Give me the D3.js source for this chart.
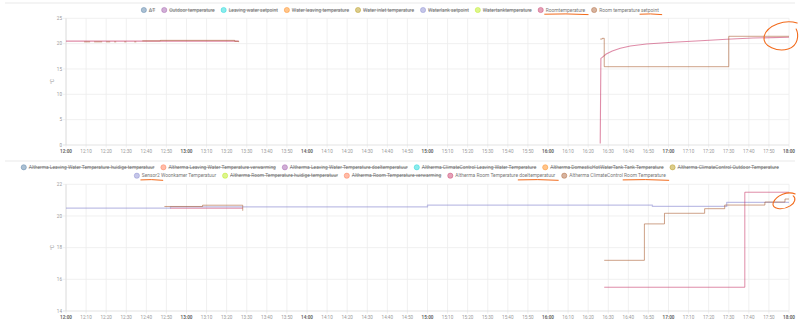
<!DOCTYPE html>
<html><head><meta charset="utf-8">
<script src="https://cdn.jsdelivr.net/npm/d3@7"></script>
<style>
html,body{margin:0;padding:0;background:#fff;}
svg{display:block;font-family:Roboto,"Noto Sans",sans-serif;}
</style></head><body>
<svg id="chart" width="800" height="326"></svg>
<script>
// ---------- legend entries ----------
const topLegendNames = ["ΔT","Outdoor temperature","Leaving water setpoint","Water leaving temperature","Water inlet temperature","Waterlank setpoint","Watertanktemperature","Roomtemperature","Room temperature setpoint"];
const topLegendColors = ["#44739e","#984ea3","#00d2d5","#ff7f00","#af8d00","#7f80cd","#b3e900","#c42e60","#a65628"];
const topLegendHidden = [true,true,true,true,true,true,true,false,false];

const bottomLegendNames1 = ["Altherma Leaving Water Temperature huidige temperatuur","Altherma Leaving Water Temperature verwarming","Altherma Leaving Water Temperature doeltemperatuur","Altherma ClimateControl Leaving Water Temperature","Altherma DomesticHotWaterTank Tank Temperature","Altherma ClimateControl Outdoor Temperature"];
const bottomLegendColors1 = ["#44739e","#ff6a3d","#984ea3","#00d2d5","#ff7f00","#af8d00"];
const bottomLegendHidden1 = [true,true,true,true,true,true];
const bottomLegendNames2 = ["Sensor2 Woonkamer Temperatuur","Altherma Room Temperature huidige temperatuur","Altherma Room Temperature verwarming","Altherma Room Temperature doeltemperatuur","Altherma ClimateControl Room Temperature"];
const bottomLegendColors2 = ["#7f80cd","#b3e900","#ff6a3d","#c42e60","#a65628"];
const bottomLegendHidden2 = [false,true,true,false,false];

// ---------- axis ticks ----------
const topYTicks = [0,5,10,15,20,25];
const bottomYTicks = [14,16,18,20,22];
const timeStart = "12:00", timeEnd = "18:00";

// ---------- top panel series ----------
const roomTemperature = [
  ["12:00",20.5],["13:26",20.5],["13:26:30",null],
  ["16:26",0.3],["16:26:20",17.1],["16:27",17.3],["16:29",17.95],["16:32",18.55],["16:36",19.08],
  ["16:41",19.53],["16:49",19.93],["17:02",20.26],["17:16",20.58],["17:29",20.86],["17:42",21.11],["18:00",21.25]
];
const roomTemperatureSetpoint = [
  ["12:09",20.35],["12:12",20.35],["12:12:30",null],
  ["12:14",20.35],["12:18",20.35],["12:18:30",null],
  ["12:20",20.35],["12:22",20.35],["12:22:30",null],
  ["12:24",20.35],["12:25",20.35],["12:25:30",null],
  ["12:29",20.35],["12:30",20.35],["12:30:30",null],
  ["12:34",20.35],["12:35",20.35],["12:35:30",null],
  ["12:38",20.55],["12:47",20.65],["13:24",20.45],["13:26",20.3],["13:26:30",null],
  ["16:26",20.9],["16:27",21.05],["16:28",15.45],["17:30",21.45],["18:00",21.45]
];

// ---------- bottom panel series ----------
const sensor2Woonkamer = [
  ["12:00",20.49],["12:52",20.57],["15:00",20.68],["16:52",20.6],["17:29",20.86],["18:00",20.86]
];
const roomDoeltemperatuur = [
  ["12:52",20.49],["13:28",20.49],["13:28:30",null],
  ["16:28",15.5],["17:38",21.5],["18:00",21.5]
];
const climateRoomTemperature = [
  ["12:49",20.6],["13:08",20.68],["13:28",20.33],["13:28:30",null],
  ["16:28",17.2],["16:48",19.5],["16:58",20.17],["17:18",20.46],["17:28",20.69],
  ["17:48",20.88],["17:58",21.07],["18:00",21.07]
];

// ---------- helpers ----------
const svg = d3.select("#chart");
const pHM = d3.timeParse("%H:%M"), pHMS = d3.timeParse("%H:%M:%S");
const t = s => (s.length === 5 ? pHM(s) : pHMS(s));
const fmt = d3.timeFormat("%H:%M");
const ink = "#f26a1b";

const x = d3.scaleTime().domain([t(timeStart), t(timeEnd)]).range([66, 789]);

function drawLegendRow(y, names, colors, hidden, underlines) {
  const g = svg.append("g");
  const items = names.map((n, i) => {
    const it = g.append("g");
    it.append("circle").attr("r", 2.6).attr("cx", 0).attr("cy", 0)
      .attr("fill", colors[i]).attr("fill-opacity", 0.45)
      .attr("stroke", colors[i]).attr("stroke-opacity", 0.55).attr("stroke-width", 0.7);
    const tx = it.append("text").attr("x", 5).attr("y", 0).attr("dy", "0.35em")
      .attr("font-size", 4.9).attr("fill", "#777").text(n);
    if (hidden[i]) tx.style("text-decoration", "line-through");
    const w = tx.node().getComputedTextLength();
    return {it, tx, w: 5 + w};
  });
  const gap = 9;
  const total = d3.sum(items, d => d.w) + 2.6 + gap * (items.length - 1);
  let cx = 400 - total / 2 + 2.6;
  items.forEach((d, i) => {
    d.it.attr("transform", `translate(${cx},${y})`);
    const u = underlines && underlines[i];
    if (u) {
      const node = d.tx.node();
      const from = names[i].indexOf(u);
      const sx = cx + 5 + (from > 0 ? node.getSubStringLength(0, from) : 0);
      const ex = cx + 5 + node.getSubStringLength(0, from + u.length);
      g.append("path")
        .attr("d", `M${sx - 1},${y + 4.2} Q${(sx + ex) / 2},${y + 3.4} ${ex + 3},${y + 4.6}`)
        .attr("fill", "none").attr("stroke", ink).attr("stroke-width", 1).attr("stroke-linecap", "round");
    }
    cx += d.w + gap;
  });
}

function drawPanel(yTop, yBot, yDomain, yTicks, series) {
  const y = d3.scaleLinear().domain(yDomain).range([yBot, yTop]);
  const g = svg.append("g");
  // vertical grid every 10 minutes
  const xt = x.ticks(d3.timeMinute.every(10));
  g.selectAll(".vg").data(xt).join("line")
    .attr("x1", d => x(d)).attr("x2", d => x(d)).attr("y1", yTop).attr("y2", yBot + 2.5)
    .attr("stroke", "#ececec").attr("stroke-width", 0.8);
  // horizontal grid
  g.selectAll(".hg").data(yTicks).join("line")
    .attr("x1", 63).attr("x2", 789).attr("y1", d => y(d)).attr("y2", d => y(d))
    .attr("stroke", d => d === yDomain[0] ? "#dcdcdc" : "#ececec").attr("stroke-width", 0.8);
  g.append("line").attr("x1", 66).attr("x2", 66).attr("y1", yTop).attr("y2", yBot)
    .attr("stroke", "#dcdcdc").attr("stroke-width", 0.8);
  // tick labels
  g.selectAll(".xl").data(xt).join("text")
    .attr("x", d => x(d)).attr("y", yBot + 6.5).attr("dy", "0.35em")
    .attr("text-anchor", "middle").attr("font-size", 4.6)
    .attr("font-weight", d => d.getMinutes() === 0 ? "bold" : "normal")
    .attr("fill", d => d.getMinutes() === 0 ? "#666" : "#999").text(fmt);
  g.selectAll(".yl").data(yTicks).join("text")
    .attr("x", 62).attr("y", d => y(d)).attr("dy", "0.35em")
    .attr("text-anchor", "end").attr("font-size", 4.6).attr("fill", "#999").text(d => d);
  g.append("text").attr("transform", `translate(52,${(yTop + yBot) / 2}) rotate(-90)`)
    .attr("text-anchor", "middle").attr("dy", "0.35em").attr("font-size", 4.8).attr("fill", "#999").text("°C");
  // lines
  series.forEach(s => {
    const line = d3.line().defined(d => d[1] != null)
      .x(d => x(t(d[0]))).y(d => y(d[1])).curve(s.curve || d3.curveStepAfter);
    g.append("path").datum(s.data).attr("d", line)
      .attr("fill", "none").attr("stroke", s.color).attr("stroke-opacity", s.opacity || 0.55)
      .attr("stroke-width", s.width || 1).attr("stroke-linejoin", "round");
  });
  return y;
}

function drawLoop(cxp, cyp, pts) {
  const p = pts.map((v, i) => (i % 2 === 0 ? v + cxp : v + cyp));
  svg.append("path")
    .attr("d", `M${p[0]},${p[1]} C${p[2]},${p[3]} ${p[4]},${p[5]} ${p[6]},${p[7]} C${p[8]},${p[9]} ${p[10]},${p[11]} ${p[12]},${p[13]} C${p[14]},${p[15]} ${p[16]},${p[17]} ${p[18]},${p[19]}`)
    .attr("fill", "none").attr("stroke", ink).attr("stroke-width", 1.1).attr("stroke-linecap", "round");
}

// ---------- separators ----------
svg.append("line").attr("x1", 5).attr("x2", 795).attr("y1", 3).attr("y2", 3).attr("stroke", "#e3e3e3").attr("stroke-width", 0.8);
svg.append("line").attr("x1", 5).attr("x2", 795).attr("y1", 161).attr("y2", 161).attr("stroke", "#e3e3e3").attr("stroke-width", 0.8);

// ---------- top panel ----------
drawLegendRow(10, topLegendNames, topLegendColors, topLegendHidden,
  [null,null,null,null,null,null,null,"Roomtemperature","setpoint"]);
const yTopPanel = drawPanel(18.3, 145, [0, 25], topYTicks, [
  {data: roomTemperature, color: "#c42e60", curve: d3.curveLinear, opacity: 0.55, width: 1.1},
  {data: roomTemperatureSetpoint, color: "#a65628", opacity: 0.55, width: 1}
]);

// ---------- bottom panel ----------
drawLegendRow(167.3, bottomLegendNames1, bottomLegendColors1, bottomLegendHidden1, null);
drawLegendRow(175.7, bottomLegendNames2, bottomLegendColors2, bottomLegendHidden2,
  ["Sensor2", null, null, "doeltemperatuur", "Room Temperature"]);
const yBottomPanel = drawPanel(184.3, 311, [14, 22], bottomYTicks, [
  {data: sensor2Woonkamer, color: "#7f80cd", opacity: 0.5, width: 1.3},
  {data: roomDoeltemperatuur, color: "#c42e60", opacity: 0.55, width: 1},
  {data: climateRoomTemperature, color: "#a65628", opacity: 0.55, width: 1}
]);

// ---------- highlight loops around the latest readings ----------
drawLoop(x(t("17:55:36")), yTopPanel(21.5),
  [17,-13, 5,-17, -13,-11, -16,0, -18,11, -2,16, 8,13, 18,10, 19,-1, 16,-7]);
drawLoop(x(t("17:57:36")), yBottomPanel(20.92),
  [11,-7.5, 4,-10.5, -8,-6.5, -11,1.5, -13,7.5, -2,9.5, 6,4.5, 11,1.5, 12,-3.5, 9,-5.5]);
</script>
</body></html>
